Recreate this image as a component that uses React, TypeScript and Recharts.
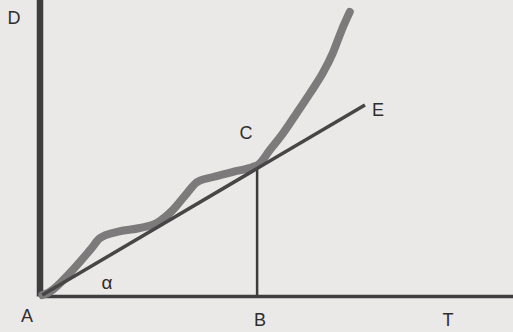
import React from 'react';
import { ComposedChart, Line, XAxis, YAxis, ReferenceLine } from 'recharts';

// T (horizontal) and D (vertical), both on a 0-100 scale
const curveT = [0.5, 2.1, 6.3, 10.6, 12.7, 16.3, 21.1, 24.7, 28.1, 31.1, 33.2, 36.6, 40.8, 45.0, 46.1, 48.6, 51.4, 54.3, 57.1, 59.8, 61.9, 63.8, 65.5];
const curveD = [0.5, 1.6, 7.9, 15.7, 19.7, 21.8, 23.1, 24.8, 29.2, 34.9, 38.6, 40.3, 42.0, 43.7, 44.4, 49.4, 55.1, 61.9, 68.6, 75.4, 82.1, 89.9, 96.0];

const tangentT = [0.5, 68.7];
const tangentD = [0.5, 64.6];

const pointB = 45.9;
const pointC = 43.5;

const labels = [
  { text: 'D', x: 14, y: 18 },
  { text: 'A', x: 27, y: 316 },
  { text: 'α', x: 107, y: 282 },
  { text: 'B', x: 260, y: 320 },
  { text: 'T', x: 448, y: 320 },
  { text: 'C', x: 246, y: 133 },
  { text: 'E', x: 378, y: 110 },
];

const curve = curveT.map((t, i) => ({ t, d: curveD[i] }));
const tangent = tangentT.map((t, i) => ({ t, d: tangentD[i] }));
const drop = [
  { t: pointB, d: 0 },
  { t: pointB, d: pointC },
];

export default function App() {
  return (
    <div style={{ position: 'fixed', left: 0, top: 0, width: 513, height: 332, background: '#ebe8e8', fontFamily: '"Liberation Sans", Arial, sans-serif' }}>
      <ComposedChart width={513} height={332} margin={{ top: 0, right: 0, left: 40, bottom: 35.5 }}>
        <XAxis type="number" dataKey="t" domain={[0, 100]} hide />
        <YAxis type="number" dataKey="d" domain={[0, 100]} hide />
        <ReferenceLine x={0} stroke="#3e3e3e" strokeWidth={6.5} ifOverflow="visible" />
        <ReferenceLine y={0} stroke="#3e3e3e" strokeWidth={3.5} ifOverflow="visible" />
        <Line data={drop} dataKey="d" type="linear" stroke="#3c3c3c" strokeWidth={2.5} dot={false} isAnimationActive={false} />
        <Line data={curve} dataKey="d" type="monotone" stroke="#7c7a7a" strokeWidth={8} strokeLinecap="round" strokeLinejoin="round" dot={false} isAnimationActive={false} />
        <Line data={tangent} dataKey="d" type="linear" stroke="#474646" strokeWidth={3.5} dot={false} isAnimationActive={false} />
      </ComposedChart>
      {labels.map((l) => (
        <span
          key={l.text}
          style={{ position: 'absolute', left: l.x, top: l.y, transform: 'translate(-50%, -50%)', fontSize: l.text === 'α' ? 19 : 18, lineHeight: 1, color: '#2e2e2e' }}
        >
          {l.text}
        </span>
      ))}
    </div>
  );
}
